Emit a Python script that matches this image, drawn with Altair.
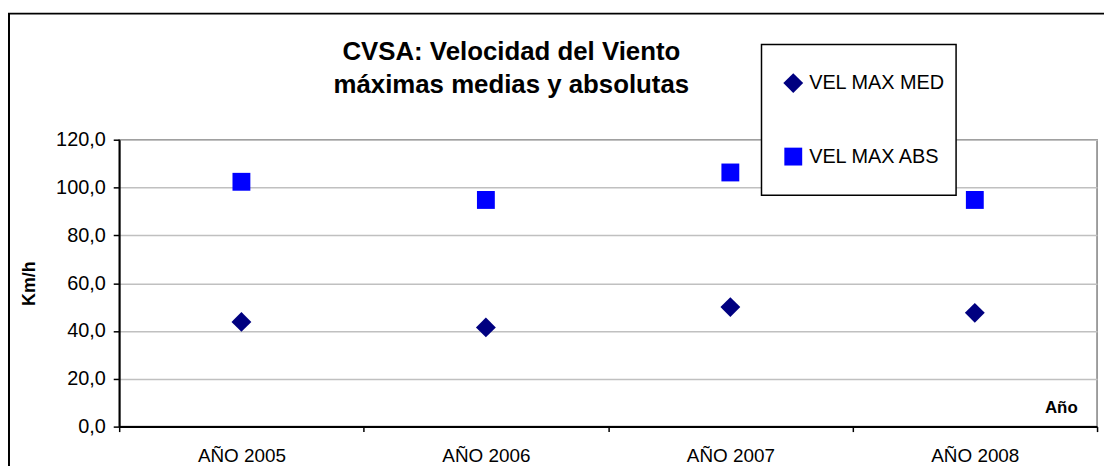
import altair as alt
import pandas as pd

# ---- data ----
YEARS = ["AÑO 2005", "AÑO 2006", "AÑO 2007", "AÑO 2008"]
SERIES = ["VEL MAX MED", "VEL MAX ABS"]
VEL_MAX_MED = [43.8, 41.5, 50.0, 47.6]
VEL_MAX_ABS = [102.4, 94.8, 106.3, 94.8]
COLORS = ["#000080", "#0000FF"]
SHAPES = ["diamond", "square"]
Y_TICKS = [0, 20, 40, 60, 80, 100, 120]
TITLE_LINES = ["CVSA: Velocidad del Viento", "máximas medias y absolutas"]
Y_TITLE = "Km/h"
X_TITLE = "Año"

rows = []
for y, v in zip(YEARS, VEL_MAX_MED):
    rows.append({"year": y, "serie": SERIES[0], "value": v})
for y, v in zip(YEARS, VEL_MAX_ABS):
    rows.append({"year": y, "serie": SERIES[1], "value": v})
df = pd.DataFrame(rows)

FONT = "Liberation Sans"
W, H = 985, 289

legend_opts = dict(
    title=None,
    orient="none",
    legendX=669,
    legendY=-67,
    padding=0,
    rowPadding=54,
    labelFont=FONT,
    labelFontSize=20,
    labelColor="black",
    labelOffset=6,
    symbolSize=220,
    symbolStrokeWidth=0,
)

points = alt.Chart(df).mark_point(filled=True, opacity=1, strokeWidth=0).encode(
    x=alt.X(
        "year:N",
        sort=YEARS,
        scale=alt.Scale(paddingInner=0, paddingOuter=0),
        axis=alt.Axis(
            title=X_TITLE,
            titleX=965,
            titleY=-14,
            titleAlign="right",
            titleBaseline="alphabetic",
            titleFontSize=17,
            titleFontWeight="bold",
            titleFont=FONT,
            titleColor="black",
            labelAngle=0,
            labelFont=FONT,
            labelFontSize=19,
            labelColor="black",
            labelPadding=15,
            tickBand="extent",
            tickSize=5,
            tickColor="black",
            tickWidth=1.5,
            domainColor="black",
            domainWidth=2,
            grid=False,
        ),
    ),
    y=alt.Y(
        "value:Q",
        scale=alt.Scale(domain=[0, 120], nice=False),
        axis=alt.Axis(
            title=Y_TITLE,
            titleX=-90,
            titleY=144.5,
            titleAngle=270,
            titleAlign="center",
            titleBaseline="middle",
            titleFontSize=18,
            titleFontWeight="bold",
            titleFont=FONT,
            titleColor="black",
            values=Y_TICKS,
            labelExpr="replace(format(datum.value, '.1f'), '.', ',')",
            labelFont=FONT,
            labelFontSize=20,
            labelColor="black",
            labelPadding=8,
            tickSize=6,
            tickColor="black",
            tickWidth=1.5,
            domainColor="black",
            domainWidth=2,
            grid=True,
            gridColor="#c0c0c0",
            gridWidth=1.5,
        ),
    ),
    color=alt.Color(
        "serie:N",
        scale=alt.Scale(domain=SERIES, range=COLORS),
        legend=alt.Legend(**legend_opts),
    ),
    shape=alt.Shape(
        "serie:N",
        scale=alt.Scale(domain=SERIES, range=SHAPES),
        legend=alt.Legend(**legend_opts),
    ),
    size=alt.Size(
        "serie:N",
        scale=alt.Scale(domain=SERIES, range=[400, 324]),
        legend=None,
    ),
)

one = alt.Data(values=[{"k": 1}])

legend_box = alt.Chart(one).mark_rect(
    fill="white", stroke="black", strokeWidth=1.5
).encode(
    x=alt.value(647), x2=alt.value(843),
    y=alt.value(-96), y2=alt.value(56),
)

outer = alt.Chart(one).mark_rect(
    fill=None, stroke="black", strokeWidth=2
).encode(
    x=alt.value(-111), x2=alt.value(1010),
    y=alt.value(-127), y2=alt.value(420),
)

title1 = alt.Chart(alt.Data(values=[{"t": TITLE_LINES[0]}])).mark_text(
    font=FONT, fontSize=26, fontWeight="bold", color="black",
    align="center", baseline="alphabetic",
).encode(x=alt.value(395), y=alt.value(-80), text="t:N")

title2 = alt.Chart(alt.Data(values=[{"t": TITLE_LINES[1]}])).mark_text(
    font=FONT, fontSize=26, fontWeight="bold", color="black",
    align="center", baseline="alphabetic",
).encode(x=alt.value(395), y=alt.value(-47), text="t:N")

chart = alt.layer(outer, legend_box, points, title1, title2).properties(
    width=W,
    height=H,
    autosize=alt.AutoSizeParams(type="none"),
    padding={"left": 112, "top": 131, "right": 7, "bottom": 38},
    background="white",
).configure_view(
    stroke="#808080", strokeWidth=1.5
)

chart.save("out.html", embed_options={"renderer": "svg", "actions": False})
